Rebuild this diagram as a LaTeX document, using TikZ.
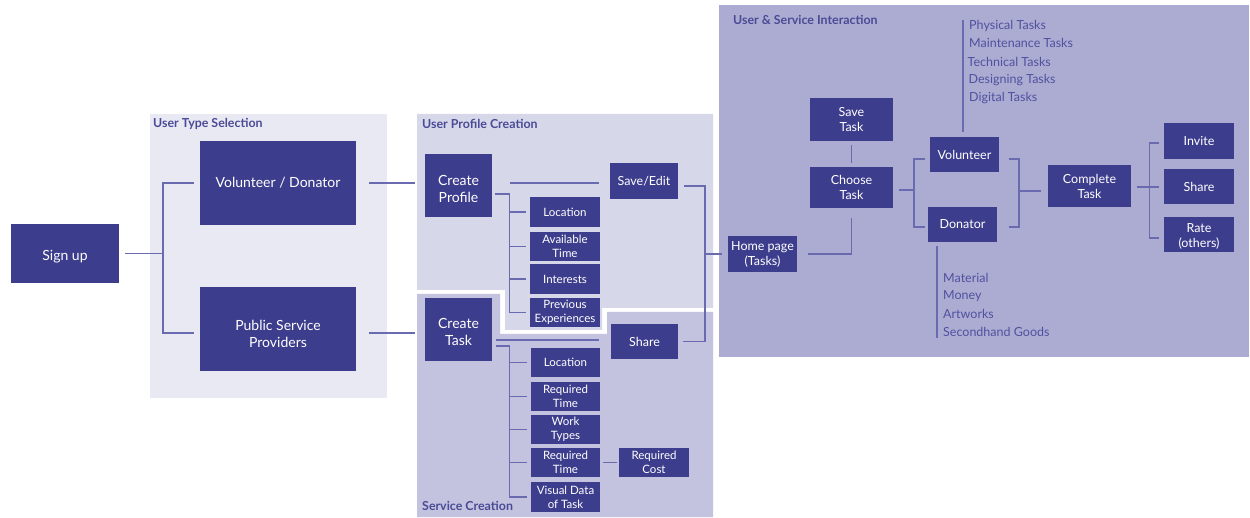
\documentclass[tikz,border=0pt]{standalone}
\usepackage{fontspec}
\setmainfont{Lato}
\usetikzlibrary{calc}
\definecolor{nodec}{HTML}{3D3D8D}
\definecolor{linec}{HTML}{6A6AB0}
\definecolor{panelA}{HTML}{E9E9F4}
\definecolor{panelB}{HTML}{D7D7EA}
\definecolor{panelC}{HTML}{C3C3DF}
\definecolor{panelD}{HTML}{ACACD2}
\definecolor{titlec}{HTML}{4A4A96}
\definecolor{listc}{HTML}{5050A0}
\begin{document}
\begin{tikzpicture}[x=1pt,y=-1pt,
  box/.style={fill=nodec, text=white, align=center, inner sep=0pt, font=\fontsize{14}{17}\selectfont},
  sbox/.style={box, font=\fontsize{11.5}{14}\selectfont},
  mbox/.style={box, font=\fontsize{12.5}{15}\selectfont},
  conn/.style={draw=linec, line width=1.3pt},
  ptitle/.style={font=\bfseries\fontsize{12.4}{14}\selectfont, text=titlec, anchor=west, inner sep=0pt},
  plist/.style={font=\fontsize{12.5}{14}\selectfont, text=listc, anchor=west, inner sep=0pt}]
\useasboundingbox (0,0) rectangle (1250,518);
% panels
\fill[panelA] (150,114) rectangle (387,398);
\fill[panelB] (417,114) -- (713,114) -- (713,308) -- (602,308) -- (602,330) -- (505,330) -- (505,290) -- (417,290) -- cycle;
\fill[panelC] (417,294) -- (500,294) -- (500,334) -- (607,334) -- (607,312) -- (713,312) -- (713,517) -- (417,517) -- cycle;
\fill[panelD] (719,5) rectangle (1249,357);
% titles
\node[ptitle] (t1) at (153,124) {User Type Selection};
\node[ptitle] (t2) at (422,124) {User Profile Creation};
\node[ptitle] (t3) at (422,506) {Service Creation};
\node[ptitle] (t4) at (733,20) {User \& Service Interaction};
% nodes
\node[box, minimum width=108pt, minimum height=59pt] (signup) at (65,253.5) {\rule{0pt}{16pt}Sign up};
\node[box, minimum width=156pt, minimum height=84pt] (vd) at (278,183) {Volunteer / Donator};
\node[box, minimum width=156pt, minimum height=84pt] (psp) at (278,329) {\rule{0pt}{20pt}Public Service\\Providers};
\node[box, minimum width=67pt, minimum height=63pt] (cprof) at (458.5,185.5) {\rule{0pt}{17pt}Create\\Profile};
\node[mbox, minimum width=68pt, minimum height=36pt] (se) at (644,181) {Save/Edit};
\node[sbox, minimum width=70pt, minimum height=30pt] (loc1) at (565,212) {Location};
\node[sbox, minimum width=70pt, minimum height=29pt] (avt) at (565,246.5) {Available\\Time};
\node[sbox, minimum width=70pt, minimum height=30pt] (intr) at (565,279) {Interests};
\node[sbox, minimum width=70pt, minimum height=29pt] (prev) at (565,312.5) {Previous\\Experiences};
\node[box, minimum width=67pt, minimum height=63pt] (ctask) at (458.5,329.5) {\rule{0pt}{16pt}Create\\Task};
\node[mbox, minimum width=67pt, minimum height=35pt] (sh1) at (644.5,341.5) {Share};
\node[sbox, minimum width=69pt, minimum height=29pt] (loc2) at (565.5,362.5) {Location};
\node[sbox, minimum width=69pt, minimum height=29pt] (rt1) at (565.5,396.5) {Required\\Time};
\node[sbox, minimum width=69pt, minimum height=29pt] (wt) at (565.5,429.5) {Work\\Types};
\node[sbox, minimum width=69pt, minimum height=29pt] (rt2) at (565.5,462.5) {Required\\Time};
\node[sbox, minimum width=69pt, minimum height=30pt] (vdt) at (565.5,497) {Visual Data\\of Task};
\node[sbox, minimum width=70pt, minimum height=29pt] (rc) at (654,462.5) {Required\\Cost};
\node[mbox, minimum width=69pt, minimum height=36pt] (home) at (762.5,254) {Home page\\(Tasks)};
\node[mbox, minimum width=83pt, minimum height=43pt] (savet) at (851.5,119.5) {Save\\Task};
\node[mbox, minimum width=83pt, minimum height=41pt] (choose) at (851.5,187.5) {Choose\\Task};
\node[mbox, minimum width=69pt, minimum height=35pt] (vol) at (964.5,154.5) {Volunteer};
\node[mbox, minimum width=69pt, minimum height=35pt] (don) at (962.5,224.5) {Donator};
\node[mbox, minimum width=83pt, minimum height=42pt] (comp) at (1089.5,186) {Complete\\Task};
\node[mbox, minimum width=70pt, minimum height=36pt] (inv) at (1199,141) {Invite};
\node[mbox, minimum width=70pt, minimum height=35pt] (sh2) at (1199,186.5) {Share};
\node[mbox, minimum width=70pt, minimum height=35pt] (rate) at (1199,234.5) {\rule{0pt}{12pt}Rate\\(others)};
% lists
\node[plist] (l1) at (969,26) {Physical Tasks};
\node[plist] (l2) at (969,43) {Maintenance Tasks};
\node[plist] (l3) at (967.5,62) {Technical Tasks};
\node[plist] (l4) at (968.5,80) {Designing Tasks};
\node[plist] (l5) at (969,98) {Digital Tasks};
\node[plist] (m1) at (943,278) {Material};
\node[plist] (m2) at (943,296) {Money};
\node[plist] (m3) at (943,314) {Artworks};
\node[plist] (m4) at (943,332) {Secondhand Goods};
% connectors
\draw[conn] ($(signup.east)+(6,0)$) -- (163,253.5);
\draw[conn] ($(vd.west)+(-6,0)$) -| (163,333) -- ($(psp.west)+(-6,4)$);
\draw[conn] ($(vd.east)+(13,0)$) -- ($(cprof.west)+(-10,-2.5)$);
\draw[conn] ($(psp.east)+(13,4)$) -- ($(ctask.west)+(-10,3.5)$);
\draw[conn] ($(cprof.east)+(3,8.5)$) -| ($(prev.west)+(-20,0)$) -- ($(prev.west)+(-4,0)$);
\foreach \n in {loc1,avt,intr}{\draw[conn] ($(\n.west)+(-20,0)$) -- ($(\n.west)+(-4,0)$);}
\draw[conn] ($(cprof.east)+(18,-2.5)$) -- ($(se.west)+(-11,2)$);
\draw[conn] ($(se.east)+(6,5)$) -| (705,341.5) -- ($(sh1.east)+(5,0)$);
\draw[conn] (705,254) -- ($(home.west)+(-6,0)$);
\draw[conn, line width=1.8pt] ($(ctask.east)+(4,10.5)$) -- ($(sh1.west)+(-12,-1.5)$);
\draw[conn] ($(ctask.east)+(4,16.5)$) -| ($(vdt.west)+(-21,0)$) -- ($(vdt.west)+(-4,0)$);
\foreach \n in {loc2,rt1,wt,rt2}{\draw[conn] ($(\n.west)+(-21,0)$) -- ($(\n.west)+(-4,0)$);}
\draw[conn] ($(rt2.east)+(3,0)$) -- ($(rc.west)+(-2,0)$);
\draw[conn] ($(home.east)+(11,0)$) -| ($(choose.south)+(0,10)$);
\draw[conn] ($(savet.south)+(0,4)$) -- ($(choose.north)+(0,-4)$);
\draw[conn] ($(choose.east)+(6,2.5)$) -- (914,190);
\draw[conn] ($(vol.west)+(-5,4.5)$) -| (914,227) -- ($(don.west)+(-3,2.5)$);
\draw[conn] ($(vol.east)+(9.5,4.5)$) -| (1019,227) -- ($(don.east)+(11.5,2.5)$);
\draw[conn] (1019,191) -- ($(comp.west)+(-7,5)$);
\draw[conn] ($(comp.east)+(5.5,1)$) -- (1149.5,187);
\draw[conn] ($(inv.west)+(-4.5,2)$) -| (1149.5,238) -- ($(rate.west)+(-4.5,3.5)$);
\draw[conn] (1149.5,187) -- ($(sh2.west)+(-4.5,0.5)$);
\draw[conn] ($(vol.north)+(-1.5,-5)$) -- (963,20);
\draw[conn] ($(don.south)+(-25.5,4)$) -- (937,338);
\end{tikzpicture}
\end{document}
